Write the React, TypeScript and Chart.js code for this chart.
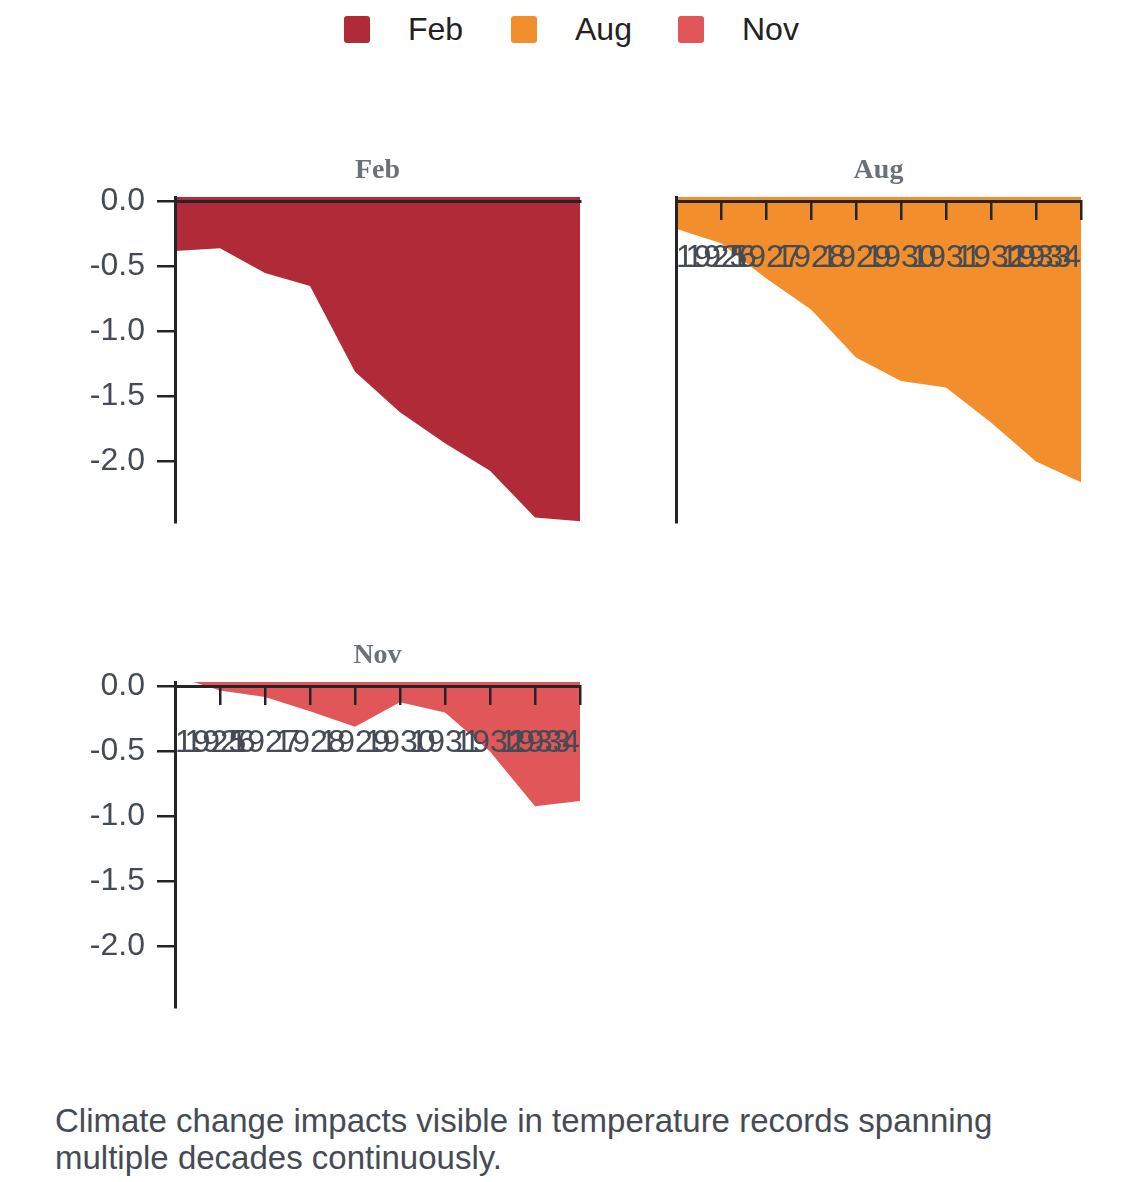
import React, { useEffect, useRef } from 'react';
import { Chart, registerables, ChartConfiguration } from 'chart.js';

Chart.register(...registerables);

// data
const years = ['1925', '1926', '1927', '1928', '1929', '1930', '1931', '1932', '1933', '1934'];
const months = ['Feb', 'Aug', 'Nov'];
const febValues = [-0.38, -0.36, -0.55, -0.65, -1.31, -1.62, -1.86, -2.07, -2.43, -2.46];
const augValues = [-0.21, -0.32, -0.59, -0.83, -1.2, -1.38, -1.43, -1.7, -2.0, -2.16];
const novValues = [0.08, -0.03, -0.08, -0.19, -0.31, -0.12, -0.2, -0.5, -0.92, -0.88];
const yTickValues = [0, -0.5, -1.0, -1.5, -2.0];
const yMin = -2.465;
const yMax = 0.035;

const monthColors = ['#b12a38', '#f28e2c', '#e15759'];
const AXIS = '#222428';
const TEXT = '#454b54';
const SANS = '"Liberation Sans", Arial, sans-serif';

interface PanelProps {
  month: string;
  values: number[];
  color: string;
  left: number;
  top: number;
  showXTicks: boolean;
  showYTicks: boolean;
}

const CANVAS_W = 560;
const CANVAS_H = 400;

function buildConfig(p: PanelProps): ChartConfiguration {
  return {
    type: 'line',
    data: {
      labels: years,
      datasets: [
        {
          label: p.month,
          data: p.values,
          backgroundColor: p.color,
          borderWidth: 0,
          pointRadius: 0,
          fill: 'end',
          tension: 0,
          clip: false,
        } as any,
      ],
    },
    options: {
      animation: false,
      responsive: false,
      maintainAspectRatio: false,
      layout: { padding: { left: 0, right: 40, top: 0, bottom: 18 } },
      plugins: {
        legend: { display: false },
        tooltip: { enabled: false },
        title: {
          display: true,
          fullSize: false,
          text: p.month,
          color: '#6b7079',
          font: { family: '"Liberation Serif", "Times New Roman", serif', weight: 'bold', size: 28 },
          padding: { top: 14, bottom: 9.4 },
        },
      },
      scales: {
        x: {
          type: 'category',
          position: { y: 0 } as any,
          offset: false,
          afterFit: (s: any) => {
            s.paddingLeft = 0;
            s.paddingRight = 0;
          },
          border: { display: true, color: AXIS, width: 3, z: 1 },
          grid: {
            display: p.showXTicks,
            drawOnChartArea: false,
            drawTicks: true,
            tickLength: 17,
            color: AXIS,
            lineWidth: 2.5,
            z: 1,
          },
          ticks: {
            display: p.showXTicks,
            autoSkip: false,
            maxRotation: 0,
            minRotation: 0,
            align: 'inner',
            color: TEXT,
            padding: 20,
            z: 1,
            font: { family: SANS, size: 32 },
          },
        },
        y: {
          type: 'linear',
          min: yMin,
          max: yMax,
          afterFit: (s: any) => {
            s.width = 115;
            s.paddingTop = 0;
            s.paddingBottom = 0;
          },
          afterBuildTicks: (s: any) => {
            s.ticks = yTickValues.map((v) => ({ value: v }));
          },
          border: { display: true, color: AXIS, width: 3, z: 1 },
          grid: {
            display: p.showYTicks,
            drawOnChartArea: false,
            drawTicks: true,
            tickLength: 18,
            color: AXIS,
            lineWidth: 2.5,
            z: 1,
          },
          ticks: {
            display: p.showYTicks,
            color: TEXT,
            padding: 12,
            z: 1,
            font: { family: SANS, size: 32 },
            callback: (v: any) => Number(v).toFixed(1),
          },
        },
      },
    },
  } as ChartConfiguration;
}

const Panel: React.FC<PanelProps> = (props) => {
  const canvasRef = useRef<HTMLCanvasElement | null>(null);
  const chartRef = useRef<Chart | null>(null);

  useEffect(() => {
    if (!canvasRef.current) return;
    chartRef.current = new Chart(canvasRef.current, buildConfig(props));
    return () => {
      chartRef.current?.destroy();
      chartRef.current = null;
    };
  }, []);

  return (
    <div style={{ position: 'absolute', left: props.left, top: props.top, width: CANVAS_W, height: CANVAS_H }}>
      <canvas ref={canvasRef} width={CANVAS_W} height={CANVAS_H} style={{ width: CANVAS_W, height: CANVAS_H }} />
    </div>
  );
};

const App: React.FC = () => {
  const seriesList = [febValues, augValues, novValues];
  const places = [
    { left: 60, top: 140, showX: false, showY: true },
    { left: 561, top: 140, showX: true, showY: false },
    { left: 60, top: 625, showX: true, showY: true },
  ];

  return (
    <div
      style={{
        position: 'absolute',
        left: 0,
        top: 0,
        width: 1140,
        height: 1182,
        overflow: 'hidden',
        background: '#fff',
        fontFamily: SANS,
      }}
    >
      <div
        style={{
          position: 'absolute',
          left: 344,
          top: 12,
          height: 34,
          display: 'flex',
          alignItems: 'center',
        }}
      >
        {months.map((m, i) => (
          <div key={m} style={{ display: 'flex', alignItems: 'center', width: 167 }}>
            <span
              style={{
                display: 'inline-block',
                width: 26,
                height: 27,
                borderRadius: 3,
                background: monthColors[i],
                marginRight: 38,
              }}
            />
            <span style={{ fontSize: 32, color: '#222', lineHeight: '34px' }}>{m}</span>
          </div>
        ))}
      </div>

      {months.map((m, i) => (
        <Panel
          key={m}
          month={m}
          values={seriesList[i]}
          color={monthColors[i]}
          left={places[i].left}
          top={places[i].top}
          showXTicks={places[i].showX}
          showYTicks={places[i].showY}
        />
      ))}

      <div
        style={{
          position: 'absolute',
          left: 55,
          top: 1102,
          width: 1060,
          fontSize: 33,
          lineHeight: '37px',
          color: '#454b54',
        }}
      >
        Climate change impacts visible in temperature records spanning
        <br />
        multiple decades continuously.
      </div>
    </div>
  );
};

export default App;
